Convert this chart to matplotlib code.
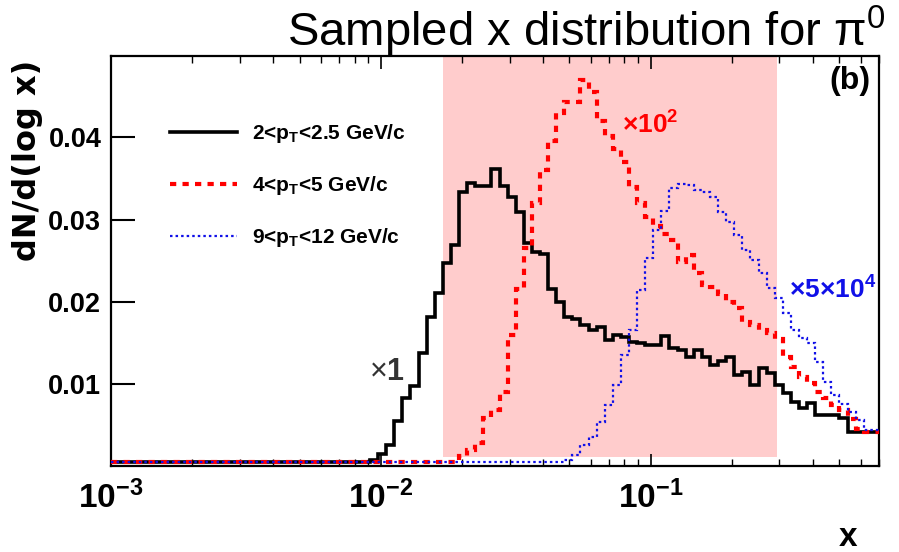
import numpy as np
import matplotlib
matplotlib.use("Agg")
import matplotlib.pyplot as plt
from matplotlib.ticker import FixedLocator, LogLocator, NullFormatter, FixedFormatter

# Datos: 100 bins log entre 1e-3 y 1, se ven los 95 primeros
bordes = np.logspace(-3, 0, 101)[:96]

negro = [0.0005] * 32 + [
    0.0008, 0.0015, 0.0026, 0.0055, 0.0083, 0.0098, 0.0138, 0.0182, 0.0211, 0.0247,
    0.0269, 0.0333, 0.0344, 0.0341, 0.0341, 0.0361, 0.0341, 0.0327, 0.0309, 0.0271,
    0.0260, 0.0258, 0.0216, 0.0200, 0.0182, 0.0179, 0.0172, 0.0166, 0.0169, 0.0154,
    0.0160, 0.0157, 0.0151, 0.0150, 0.0147, 0.0147, 0.0158, 0.0144, 0.0141, 0.0133,
    0.0141, 0.0133, 0.0123, 0.0128, 0.0133, 0.0111, 0.0115, 0.0099, 0.0119, 0.0113,
    0.0099, 0.0089, 0.0078, 0.0071, 0.0077, 0.0062, 0.0062, 0.0062, 0.0059, 0.0042,
    0.0042, 0.0042, 0.0042]

rojo = [0.0005] * 43 + [
    0.0012, 0.0020, 0.0028, 0.0059, 0.0068, 0.0090, 0.0160, 0.0215, 0.0265, 0.0320,
    0.0360, 0.0395, 0.0430, 0.0443, 0.0443, 0.0470, 0.0455, 0.0420, 0.0402, 0.0386,
    0.0370, 0.0340, 0.0320, 0.0303, 0.0292, 0.0283, 0.0275, 0.0249, 0.0257, 0.0235,
    0.0220, 0.0218, 0.0210, 0.0200, 0.0192, 0.0175, 0.0172, 0.0166, 0.0162, 0.0155,
    0.0133, 0.0121, 0.0108, 0.0101, 0.0090, 0.0083, 0.0075, 0.0068, 0.0058, 0.0045,
    0.0042, 0.0042]

azul = [0.0005] * 56 + [
    0.0008, 0.0014, 0.0026, 0.0036, 0.0054, 0.0074, 0.0099, 0.0135, 0.0166, 0.0214,
    0.0253, 0.0287, 0.0311, 0.0339, 0.0343, 0.0342, 0.0336, 0.0333, 0.0327, 0.0309,
    0.0297, 0.0281, 0.0263, 0.0251, 0.0235, 0.0217, 0.0205, 0.0187, 0.0166, 0.0156,
    0.0150, 0.0127, 0.0103, 0.0087, 0.0076, 0.0066, 0.0056, 0.0044, 0.0044]

etiquetas = ['2<p$_{\\mathbf{T}}$<2.5 GeV/c',
             '4<p$_{\\mathbf{T}}$<5 GeV/c',
             '9<p$_{\\mathbf{T}}$<12 GeV/c']
ticks_x = [1e-3, 1e-2, 1e-1]
ticks_x_txt = [r'$\mathbf{10^{-3}}$', r'$\mathbf{10^{-2}}$', r'$\mathbf{10^{-1}}$']
ticks_y = [0.01, 0.02, 0.03, 0.04]
ticks_y_txt = ['0.01', '0.02', '0.03', '0.04']
banda = (0.017, 0.295)   # zona sombreada

# Estilo
plt.rcParams['font.family'] = ['Liberation Sans', 'DejaVu Sans']
plt.rcParams['mathtext.fontset'] = 'custom'
plt.rcParams['mathtext.rm'] = 'Liberation Sans'
plt.rcParams['mathtext.it'] = 'Liberation Sans:italic'
plt.rcParams['mathtext.bf'] = 'Liberation Sans:bold'
plt.rcParams['lines.scale_dashes'] = False

fig = plt.figure(figsize=(8.99, 5.52), dpi=100)
ax = fig.add_axes([0.1235, 0.1553, 0.8538, 0.7433])

ax.fill_between(banda, 0.0011, 0.0499, color='#ffcccc', lw=0, zorder=0.5)

ax.stairs(negro, bordes, baseline=None, color='black', lw=2.6, label=etiquetas[0], zorder=3)
ax.stairs(rojo, bordes, baseline=None, color='#ff0000', lw=3.0, ls=(0, (4.5, 4.5)),
          label=etiquetas[1], zorder=4)
ax.stairs(azul, bordes, baseline=None, color='#1010e8', lw=1.6, ls=(0, (1.8, 2.2)),
          label=etiquetas[2], zorder=5)

ax.set_xscale('log')
ax.set_xlim(1e-3, 0.7)
ax.set_ylim(0, 0.0499)

ax.xaxis.set_major_locator(FixedLocator(ticks_x))
ax.xaxis.set_major_formatter(FixedFormatter(ticks_x_txt))
ax.xaxis.set_minor_locator(LogLocator(base=10, subs=np.arange(2, 10), numticks=20))
ax.xaxis.set_minor_formatter(NullFormatter())
ax.set_yticks(ticks_y)
ax.set_yticklabels(ticks_y_txt)

ax.tick_params(axis='x', which='major', direction='in', length=9, width=1.2,
               top=True, pad=10, labelsize=24)
ax.tick_params(axis='x', which='minor', direction='in', length=5, width=1.0, top=True)
ax.tick_params(axis='y', which='major', direction='in', length=17, width=1.5,
               right=False, pad=7, labelsize=19.5)
for lbl in ax.get_yticklabels():
    lbl.set_fontweight('bold')
for s in ax.spines.values():
    s.set_linewidth(1.6)

ax.set_ylabel('dN/d(log x)', family='DejaVu Sans', fontweight='bold', fontsize=23, loc='top')
ax.yaxis.set_label_coords(-0.0886, 0.99)
ax.set_xlabel('x', fontweight='bold', fontsize=24, loc='right')
ax.xaxis.set_label_coords(0.972, -0.135)

fig.text(885 / 899, 0.9167, 'Sampled x distribution for \u03c0$^{\\mathrm{0}}$',
         family='Liberation Sans', fontsize=34, ha='right', va='baseline')

ax.legend(loc='upper left', bbox_to_anchor=(0.0769, 0.838), frameon=False,
          prop=dict(weight='bold', size=15), handlelength=3.2, handletextpad=0.72,
          labelspacing=1.38, borderpad=0, borderaxespad=0)

ax.text(0.99, 0.975, '(b)', transform=ax.transAxes, ha='right', va='top',
        fontsize=23, fontweight='bold')
ax.text(0.0123, 0.0115, r'$\times\mathbf{1}$', ha='right', va='center',
        fontsize=22, color='#333333', zorder=6)
ax.text(0.0786, 0.0415, '\u00d710$^{\\mathbf{2}}$', ha='left', va='center',
        fontsize=19, fontweight='bold', color='#ff0000', zorder=6)
ax.text(0.327, 0.0214, '\u00d75\u00d710$^{\\mathbf{4}}$', ha='left', va='center',
        fontsize=19, fontweight='bold', color='#1010e8', zorder=6)

fig.savefig('out.png', dpi=100)
